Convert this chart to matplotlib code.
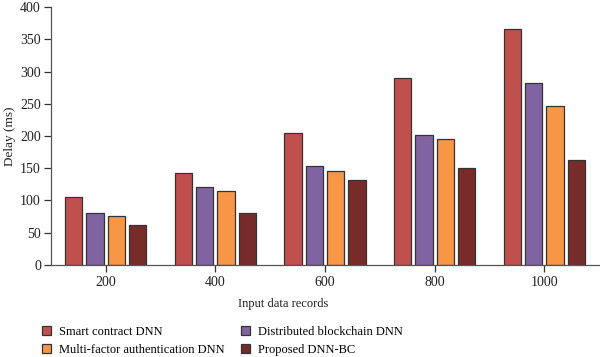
import numpy as np
import matplotlib
matplotlib.use("Agg")
from matplotlib import pyplot as plt

# data
records = ["200", "400", "600", "800", "1000"]
smart_contract = [105, 142, 205, 290, 366]
distributed_bc = [80, 121, 154, 202, 282]
multi_factor = [75, 115, 145, 196, 247]
proposed = [62, 80, 131, 150, 163]

series = [
    ("Smart contract DNN", smart_contract, "#C0504D"),
    ("Distributed blockchain DNN", distributed_bc, "#8064A2"),
    ("Multi-factor authentication DNN", multi_factor, "#F79646"),
    ("Proposed DNN-BC", proposed, "#772C2A"),
]

plt.rcParams['font.family'] = ['Liberation Serif', 'DejaVu Serif']

fig = plt.figure(figsize=(6.0, 3.57), dpi=100)
W, H = 600., 357.
ax = fig.add_axes([50.7 / W, 1 - 264.7 / H, 548.5 / W, (264.7 - 7.3) / H])

x = np.arange(len(records))
pitch = 0.194
width = 0.158
handles = []
for i, (name, vals, col) in enumerate(series):
    b = ax.bar(x + (i - 1.5) * pitch, vals, width, color=col,
               edgecolor="#333333", linewidth=0.9, label=name)
    handles.append(b)

ax.set_xlim(-0.5, 4.5)
ax.set_ylim(0, 400)
ax.set_yticks(range(0, 401, 50))
ax.set_xticks(x)
ax.set_xticklabels(records)

for s in ["top", "right"]:
    ax.spines[s].set_visible(False)
for s in ["left", "bottom"]:
    ax.spines[s].set_color("#555555")
    ax.spines[s].set_linewidth(0.9)
ax.tick_params(axis="y", labelsize=10, colors="#333333", length=5, width=0.9,
               pad=2, labelcolor="#222222")
ax.tick_params(axis="x", labelsize=10, colors="#333333", length=5, width=0.9,
               pad=3, labelcolor="#222222")

ax.set_ylabel("Delay (ms)", fontsize=9.5, color="#222222", labelpad=3)
ax.set_xlabel("Input data records", fontsize=9, color="#222222")
ax.xaxis.set_label_coords((283 - 50.7) / 548.5, -(298 - 264.7) / 257.4)

order = [handles[0], handles[2], handles[1], handles[3]]
fig.legend(order, [h.get_label() for h in order], ncol=2, frameon=False,
           loc="upper left", bbox_to_anchor=(42 / W, 1 - 326 / H),
           fontsize=9, handlelength=0.75, handleheight=0.75, handletextpad=0.6,
           columnspacing=1.3, labelspacing=0.45, borderpad=0, borderaxespad=0)

fig.savefig("out.png", dpi=100)
